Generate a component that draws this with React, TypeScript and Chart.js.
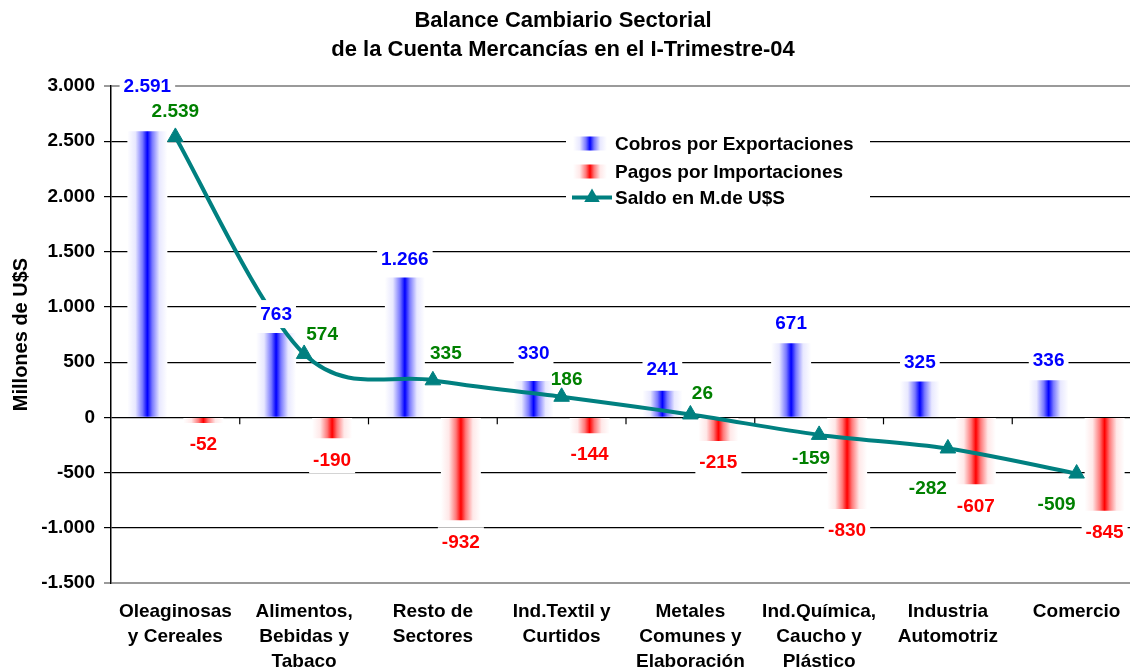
import React, { useEffect, useRef } from 'react';
import { Chart, registerables } from 'chart.js';

Chart.register(...registerables);

// ---------- data ----------
const titleLines = ['Balance Cambiario Sectorial', 'de la Cuenta Mercancías en el I-Trimestre-04'];
const categories = [
  ['Oleaginosas', 'y Cereales'],
  ['Alimentos,', 'Bebidas y', 'Tabaco'],
  ['Resto de', 'Sectores'],
  ['Ind.Textil y', 'Curtidos'],
  ['Metales', 'Comunes y', 'Elaboración'],
  ['Ind.Química,', 'Caucho y', 'Plástico'],
  ['Industria', 'Automotriz'],
  ['Comercio'],
];
const cobros = [2591, 763, 1266, 330, 241, 671, 325, 336];
const pagos = [-52, -190, -932, -144, -215, -830, -607, -845];
const saldo = [2539, 574, 335, 186, 26, -159, -282, -509];
const seriesNames = ['Cobros por Exportaciones', 'Pagos por Importaciones', 'Saldo en M.de U$S'];
const yAxisTitle = 'Millones de U$S';
const yMin = -1500;
const yMax = 3000;
const yStep = 500;

// ---------- style ----------
const FONT = "'Liberation Sans', Arial, Helvetica, sans-serif";
const BLUE = '#0000ff';
const RED = '#ff0000';
const TEAL = '#008080';
const GREEN = '#008000';
// label placement (pixel offsets, style only)
const cobrosLabelDy = [-45, -19, -19, -28, -22, -20, -20, -20];
const pagosLabelDy = 21;
const saldoLabelOffset = [
  [0, -26], [18, -20], [13, -28], [5, -18], [12, -22], [-8, 23], [-20, 39], [-20, 30],
];

const fmt = (v: number) => {
  const s = Math.abs(v).toString().replace(/\B(?=(\d{3})+(?!\d))/g, '.');
  return (v < 0 ? '-' : '') + s;
};

function makeGrad(ctx: CanvasRenderingContext2D, x0: number, x1: number, color: string) {
  const g = ctx.createLinearGradient(x0, 0, x1, 0);
  const isBlue = color === BLUE;
  const light = isBlue ? '#e8e8ff' : '#ffe8e8';
  const mid = isBlue ? '#7878ff' : '#ff7878';
  g.addColorStop(0, '#ffffff');
  g.addColorStop(0.2, light);
  g.addColorStop(0.38, mid);
  g.addColorStop(0.5, color);
  g.addColorStop(0.62, mid);
  g.addColorStop(0.8, light);
  g.addColorStop(1, '#ffffff');
  return g;
}

const barBg = (base: string) => (c: any) => {
  if (c.type !== 'data') return base;
  const meta = c.chart.getDatasetMeta(c.datasetIndex);
  const el: any = meta && meta.data[c.dataIndex];
  if (!el || !Number.isFinite(el.x) || !Number.isFinite(el.width) || !el.width) return base;
  return makeGrad(c.chart.ctx, el.x - el.width / 2, el.x + el.width / 2, base);
};

const decorPlugin = {
  id: 'decor',
  beforeDatasetsDraw(chart: any) {
    const { ctx, scales } = chart;
    // smooth the saldo line like a Catmull-Rom spline
    const lm = chart.getDatasetMeta(0);
    const pts = lm.data;
    const n = pts.length;
    for (let i = 0; i < n; i++) {
      const p0 = pts[Math.max(0, i - 1)];
      const p2 = pts[Math.min(n - 1, i + 1)];
      const mx = (p2.x - p0.x) / 6;
      const my = (p2.y - p0.y) / 6;
      pts[i].cp1x = pts[i].x - mx;
      pts[i].cp1y = pts[i].y - my;
      pts[i].cp2x = pts[i].x + mx;
      pts[i].cp2y = pts[i].y + my;
    }
    if (lm.dataset) lm.dataset._pointsUpdated = true;

    const x = scales.x;
    const y0 = scales.y.getPixelForValue(0);
    ctx.save();
    ctx.strokeStyle = '#000';
    ctx.lineWidth = 1.2;
    for (let i = 0; i < categories.length - 1; i++) {
      const bx = (x.getPixelForValue(i) + x.getPixelForValue(i + 1)) / 2;
      ctx.beginPath();
      ctx.moveTo(bx, y0);
      ctx.lineTo(bx, y0 + 7);
      ctx.stroke();
    }
    ctx.restore();
  },
  afterDatasetsDraw(chart: any) {
    const { ctx } = chart;
    ctx.save();
    ctx.font = `bold 19px ${FONT}`;
    ctx.textAlign = 'center';
    ctx.textBaseline = 'middle';
    const boxed = (text: string, cx: number, cy: number, color: string) => {
      const w = ctx.measureText(text).width;
      ctx.fillStyle = '#ffffff';
      ctx.fillRect(cx - w / 2 - 4, cy - 14, w + 8, 28);
      ctx.fillStyle = color;
      ctx.fillText(text, cx, cy + 1);
    };
    const mb = chart.getDatasetMeta(1);
    mb.data.forEach((el: any, i: number) => boxed(fmt(cobros[i]), el.x, el.y + cobrosLabelDy[i], BLUE));
    const mr = chart.getDatasetMeta(2);
    mr.data.forEach((el: any, i: number) => boxed(fmt(pagos[i]), el.x, el.y + pagosLabelDy, RED));
    const ml = chart.getDatasetMeta(0);
    ml.data.forEach((el: any, i: number) => {
      const [dx, dy] = saldoLabelOffset[i];
      ctx.fillStyle = GREEN;
      ctx.fillText(fmt(saldo[i]), el.x + dx, el.y + dy + 1);
    });
    ctx.restore();
  },
  afterDraw(chart: any) {
    const { ctx } = chart;
    ctx.save();
    // title
    ctx.fillStyle = '#000';
    ctx.font = `bold 22px ${FONT}`;
    ctx.textAlign = 'center';
    ctx.textBaseline = 'middle';
    ctx.fillText(titleLines[0], 563, 21);
    ctx.fillText(titleLines[1], 563, 50);
    // legend
    ctx.fillStyle = '#ffffff';
    ctx.fillRect(566, 124, 304, 88);
    const rows = [143.5, 171.5, 197.5];
    ctx.fillStyle = makeGrad(ctx, 573, 607, BLUE);
    ctx.fillRect(573, rows[0] - 7, 34, 14);
    ctx.fillStyle = makeGrad(ctx, 573, 607, RED);
    ctx.fillRect(573, rows[1] - 7, 34, 14);
    ctx.strokeStyle = TEAL;
    ctx.lineWidth = 4;
    ctx.beginPath();
    ctx.moveTo(572, rows[2]);
    ctx.lineTo(612, rows[2]);
    ctx.stroke();
    ctx.fillStyle = TEAL;
    const r = 9;
    ctx.beginPath();
    ctx.moveTo(592, rows[2] - r);
    ctx.lineTo(592 + Math.sin((2 * Math.PI) / 3) * r, rows[2] + r / 2);
    ctx.lineTo(592 - Math.sin((2 * Math.PI) / 3) * r, rows[2] + r / 2);
    ctx.closePath();
    ctx.fill();
    ctx.fillStyle = '#000';
    ctx.font = `bold 19px ${FONT}`;
    ctx.textAlign = 'left';
    seriesNames.forEach((nm, i) => ctx.fillText(nm, 615, rows[i] + 1));
    ctx.restore();
  },
};

export default function App() {
  const ref = useRef<HTMLCanvasElement | null>(null);
  useEffect(() => {
    document.body.style.margin = '0';
    const canvas = ref.current;
    if (!canvas) return;
    const chart = new Chart(canvas, {
      type: 'bar',
      data: {
        labels: categories as any,
        datasets: [
          {
            type: 'line',
            label: seriesNames[2],
            data: saldo,
            borderColor: TEAL,
            backgroundColor: TEAL,
            borderWidth: 4,
            pointStyle: 'triangle',
            pointRadius: 9,
            pointBorderWidth: 1,
            pointBackgroundColor: TEAL,
            pointBorderColor: TEAL,
            tension: 0.4,
            fill: false,
            clip: false,
            order: 0,
          } as any,
          {
            type: 'bar',
            label: seriesNames[0],
            data: cobros,
            backgroundColor: barBg(BLUE),
            borderWidth: 0,
            barPercentage: 0.714,
            categoryPercentage: 0.87,
            order: 1,
          } as any,
          {
            type: 'bar',
            label: seriesNames[1],
            data: pagos,
            backgroundColor: barBg(RED),
            borderWidth: 0,
            barPercentage: 0.714,
            categoryPercentage: 0.87,
            order: 1,
          } as any,
        ],
      },
      options: {
        responsive: false,
        animation: false,
        devicePixelRatio: 1,
        layout: { autoPadding: false, padding: { top: 86, right: 1, left: 0, bottom: 0 } },
        plugins: {
          legend: { display: false },
          title: { display: false },
          tooltip: { enabled: false },
        },
        scales: {
          x: {
            offset: true,
            grid: { display: false, drawTicks: false },
            border: { display: false },
            ticks: {
              autoSkip: false,
              maxRotation: 0,
              minRotation: 0,
              padding: 16,
              color: '#000',
              font: { family: FONT, size: 19, weight: 'bold', lineHeight: 1.32 },
            },
            afterFit: (s: any) => {
              s.height = 88;
            },
          },
          y: {
            min: yMin,
            max: yMax,
            ticks: {
              stepSize: yStep,
              padding: 9,
              color: '#000',
              font: { family: FONT, size: 19, weight: 'bold' },
              callback: (v: any) => fmt(Number(v)),
            },
            grid: {
              color: (c: any) => (c.tick && (c.tick.value === yMax || c.tick.value === yMin) ? '#9a9a9a' : '#000'),
              lineWidth: (c: any) => (c.tick && (c.tick.value === yMax || c.tick.value === yMin) ? 2 : 1.2),
              tickLength: 7,
              drawTicks: true,
            },
            border: { display: true, color: '#000', width: 1.5 },
            title: {
              display: true,
              text: yAxisTitle,
              color: '#000',
              font: { family: FONT, size: 20, weight: 'bold', lineHeight: 1.2 },
              padding: { top: 9, bottom: 0 },
            },
            afterFit: (s: any) => {
              s.width = 111;
            },
          },
        },
      } as any,
      plugins: [decorPlugin],
    });
    chart.update();
    return () => chart.destroy();
  }, []);
  return (
    <div style={{ width: 1130, height: 671, overflow: 'hidden', position: 'relative', background: '#fff' }}>
      <div style={{ width: 1142, height: 671 }}>
        <canvas ref={ref} width={1142} height={671} style={{ display: 'block', width: 1142, height: 671 }} />
      </div>
    </div>
  );
}
